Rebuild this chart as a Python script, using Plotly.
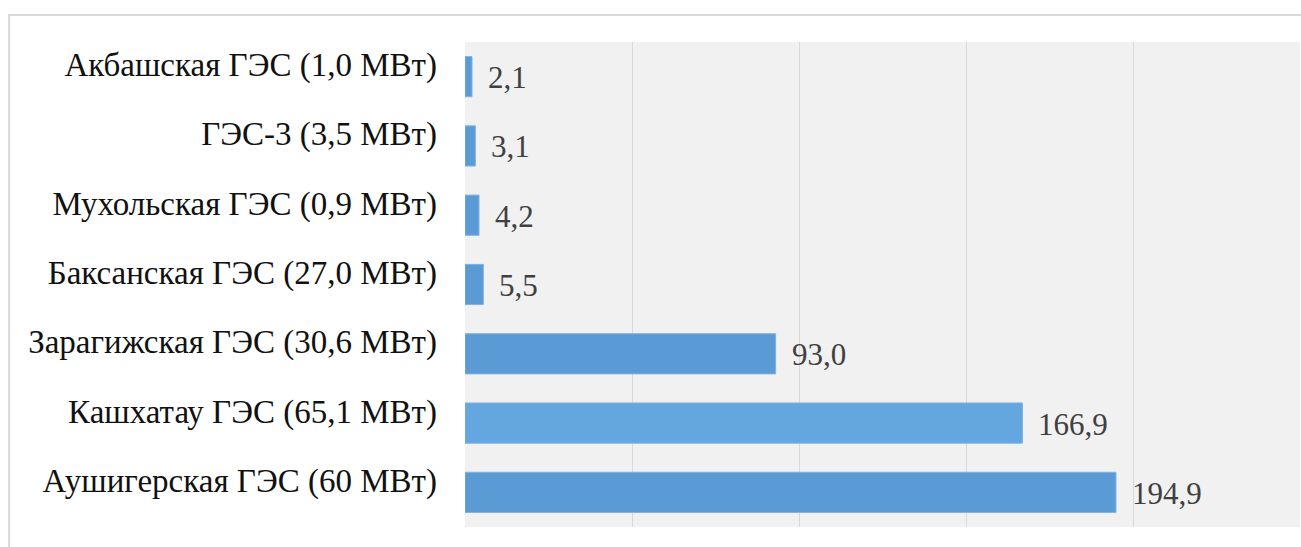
import plotly.graph_objects as go

categories = [
    "Аушигерская ГЭС (60 МВт)",
    "Кашхатау ГЭС (65,1 МВт)",
    "Зарагижская ГЭС (30,6 МВт)",
    "Баксанская ГЭС (27,0 МВт)",
    "Мухольская ГЭС (0,9 МВт)",
    "ГЭС-3 (3,5 МВт)",
    "Акбашская ГЭС (1,0 МВт)",
]
values = [194.9, 166.9, 93.0, 5.5, 4.2, 3.1, 2.1]
bar_colors = ["#5b9bd5", "#63a6e0", "#5b9bd5", "#5b9bd5", "#5b9bd5", "#5b9bd5", "#5b9bd5"]

labels = [f"{v:.1f}".replace(".", ",") for v in values]

fig = go.Figure()
fig.add_trace(go.Bar(
    y=categories,
    x=values,
    orientation="h",
    marker=dict(color=bar_colors, line=dict(color="#7fb2e0", width=1)),
    width=0.58,
    hoverinfo="skip",
))

for c, v, t in zip(categories, values, labels):
    fig.add_annotation(
        x=v, y=c, text=t, showarrow=False, xanchor="left", xshift=14, yshift=-1,
        font=dict(family="Liberation Serif", size=31, color="#404040"),
    )

fig.add_shape(
    type="rect", xref="paper", yref="paper",
    x0=-0.546, y0=-0.2, x1=1.05, y1=1.0557,
    line=dict(color="#d9d9d9", width=2), fillcolor="rgba(0,0,0,0)", layer="below",
)

fig.update_layout(
    width=1301, height=547,
    margin=dict(l=465, r=1, t=42, b=20),
    paper_bgcolor="white",
    plot_bgcolor="#f1f1f1",
    showlegend=False,
    xaxis=dict(range=[0, 250], dtick=50, showticklabels=False, showgrid=True,
               gridcolor="#d9d9d9", gridwidth=1, zeroline=False, showline=False, fixedrange=True),
    yaxis=dict(showgrid=False, zeroline=False, showline=False, ticks="",
               ticklabelstandoff=27, ticklabelshift=-12,
               tickfont=dict(family="Liberation Serif", size=33, color="#111111"), fixedrange=True),
)

fig.write_html("out.html", config={"displayModeBar": False},
               post_script="document.body.style.margin='0';document.body.style.overflow='hidden';")
